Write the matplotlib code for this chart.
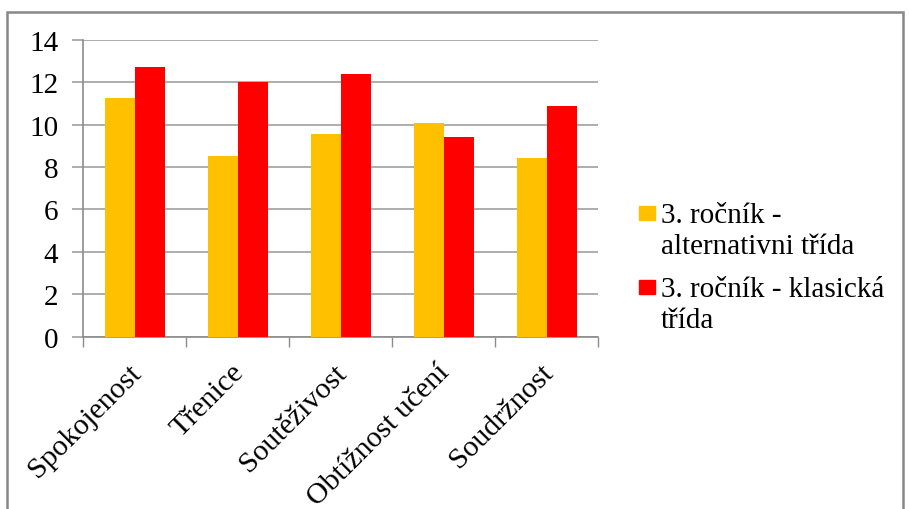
import numpy as np
import matplotlib.pyplot as plt
from matplotlib.patches import Rectangle

plt.rcParams['font.family'] = ['Liberation Serif', 'DejaVu Serif']

categories = ['Spokojenost', 'Třenice', 'Soutěživost', 'Obtížnost učení', 'Soudržnost']
series_names = ['3. ročník -\nalternativni třída', '3. ročník - klasická\ntřída']
alternativni = [11.24, 8.53, 9.54, 10.09, 8.41]
klasicka = [12.70, 12.01, 12.37, 9.43, 10.89]
colors = ['#FFC000', '#FF0000']

fig = plt.figure(figsize=(9.09, 5.10), dpi=100)
ax = fig.add_axes([0.0917, 0.338, 0.5665, 0.582])

x = np.arange(len(categories))
w = 0.29
ax.bar(x - w / 2, alternativni, w, color=colors[0], zorder=3)
ax.bar(x + w / 2, klasicka, w, color=colors[1], zorder=3)

ax.set_xlim(-0.5, len(categories) - 0.5)
ax.set_ylim(0, 14)
ax.set_yticks(range(0, 15, 2))
ax.yaxis.grid(True, color='#a0a0a0', linewidth=1.2, zorder=0)

# category ticks sit on the boundaries, labels at the centres
ax.set_xticks(np.arange(-0.5, len(categories)), minor=False)
ax.set_xticklabels([])
ax.set_xticks(x - 0.07, minor=True)
ax.set_xticklabels(categories, minor=True, rotation=45, ha='right',
                   rotation_mode='anchor', fontsize=21.5)
ax.tick_params(axis='x', which='minor', length=0, pad=16)
ax.tick_params(axis='x', which='major', length=7, color='#8c8c8c', width=1)
ax.tick_params(axis='y', length=8, color='#a0a0a0', width=1.2, labelsize=21, pad=10)

for side in ['top', 'right']:
    ax.spines[side].set_visible(False)
for side in ['left', 'bottom']:
    ax.spines[side].set_color('#8c8c8c')
    ax.spines[side].set_linewidth(1.2)

# legend drawn by hand: swatch beside the first line of each label
W, H = 909, 510
first_baseline = [223, 297]
line_gap = 31
for name, col, yb in zip(series_names, colors, first_baseline):
    fig.patches.append(Rectangle((639 / W, 1 - (yb - 2) / H), 16 / W, 14 / H,
                                 transform=fig.transFigure, color=col))
    for i, line in enumerate(name.split('\n')):
        fig.text(661 / W, 1 - (yb + i * line_gap) / H, line, fontsize=21,
                 va='baseline', ha='left')

# chart frame
fig.patches.append(Rectangle((7 / W, -0.05), 896 / W, 1 - 13 / H + 0.05,
                             transform=fig.transFigure, fill=False,
                             edgecolor='#888888', linewidth=1.8))

fig.savefig('out.png', dpi=100)
